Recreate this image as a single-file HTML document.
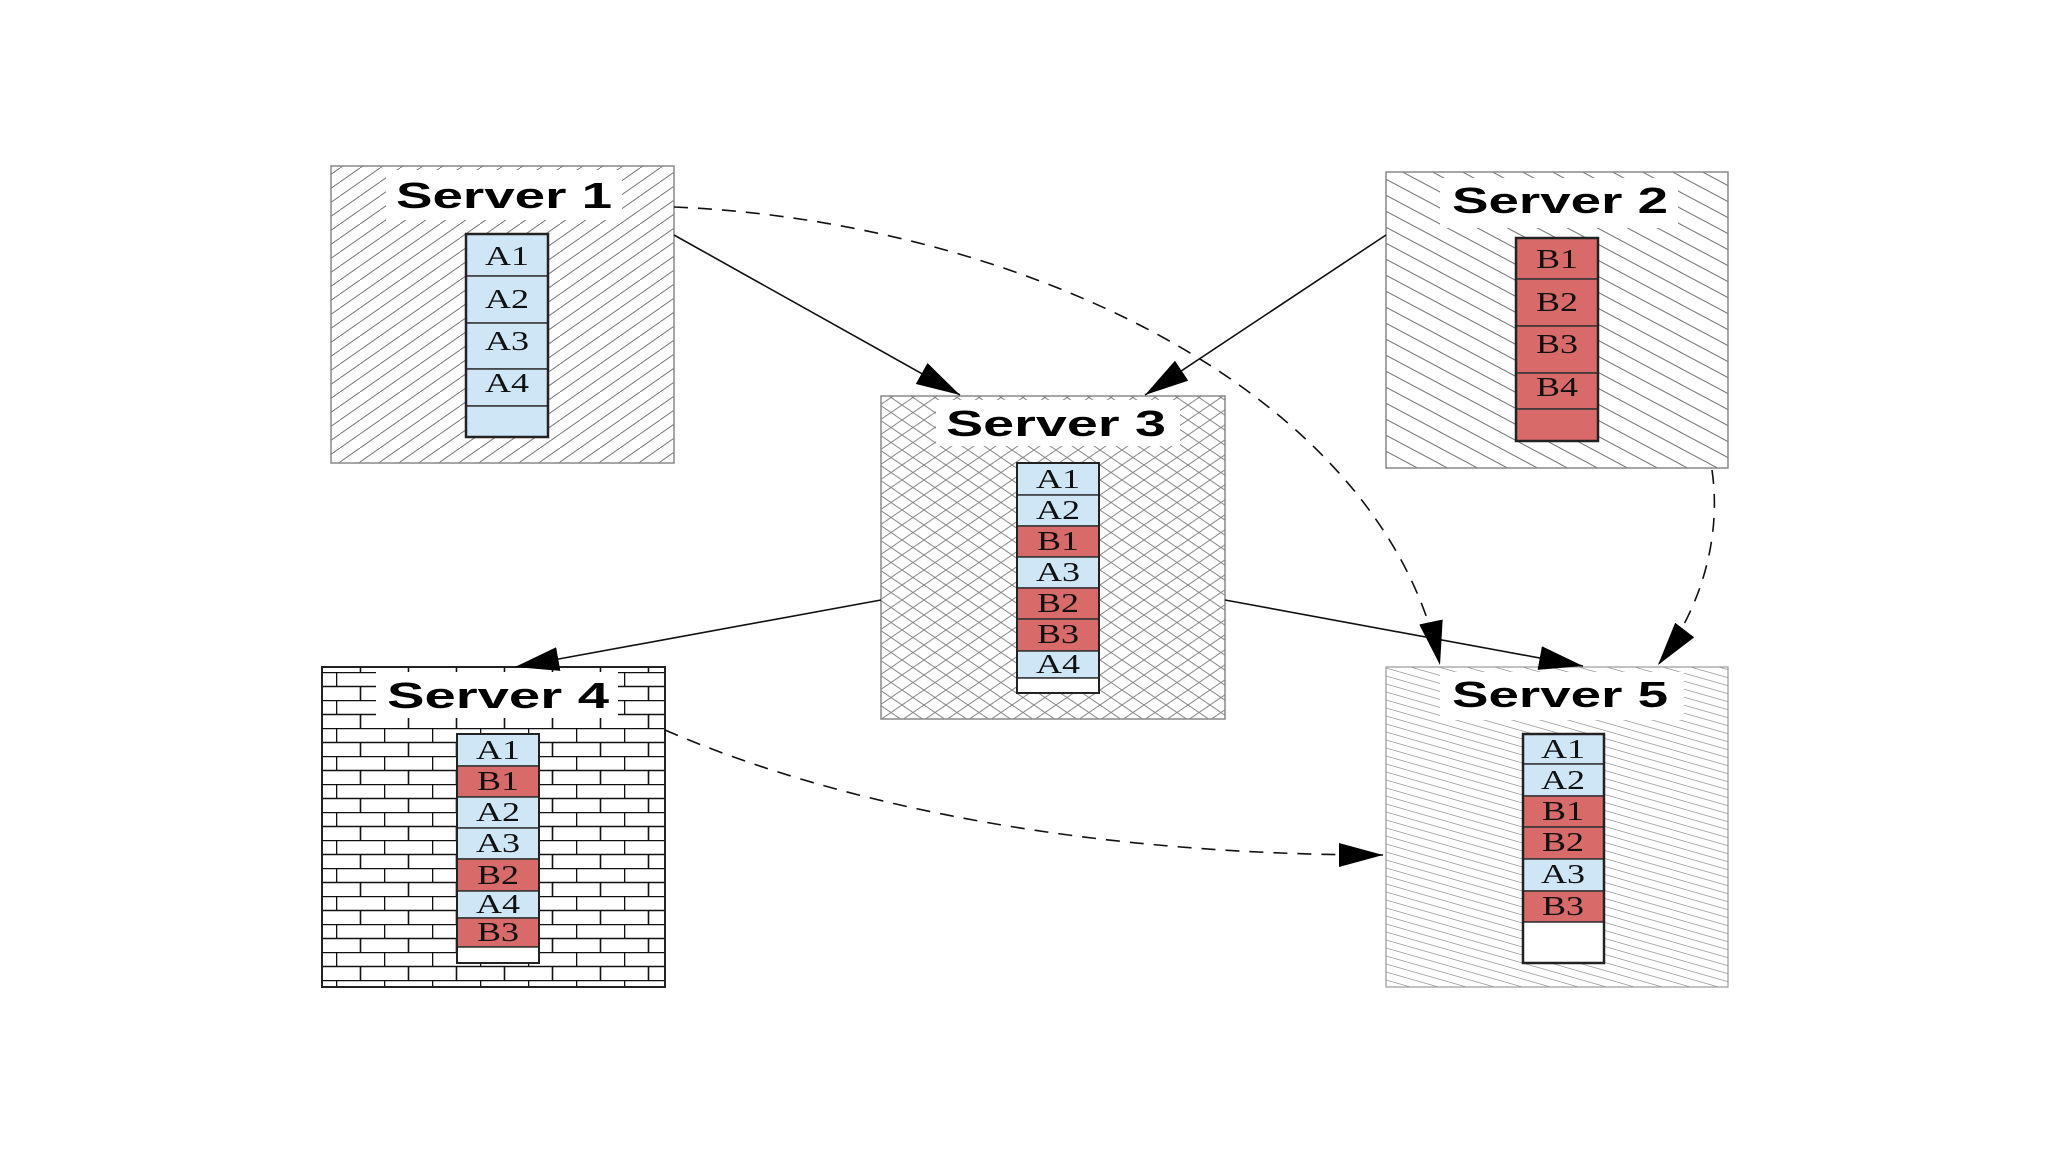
<!DOCTYPE html>
<html><head><meta charset="utf-8"><style>html,body{margin:0;padding:0;background:#fff}svg{display:block}</style></head>
<body>
<svg width="2048" height="1152" viewBox="0 0 2048 1152" xmlns="http://www.w3.org/2000/svg">
<defs>
<pattern id="p1" width="20" height="14" patternUnits="userSpaceOnUse"><path d="M-20,14 L0,0 M0,14 L20,0 M20,14 L40,0" stroke="#777" stroke-width="1"/></pattern>
<pattern id="p2" width="30" height="16" patternUnits="userSpaceOnUse"><path d="M0,0 L30,16 M-30,0 L30,32 M0,-16 L60,16" stroke="#777" stroke-width="1"/></pattern>
<pattern id="p3" width="22" height="15" patternUnits="userSpaceOnUse"><path d="M0,0 L22,15 M22,0 L0,15" stroke="#888" stroke-width="1" fill="none"/></pattern>
<pattern id="p4" width="48" height="28" patternUnits="userSpaceOnUse"><rect width="48" height="28" fill="#fff"/><path d="M0,0.5 H48 M0,14.5 H48 M0.5,0 V14 M24.5,14 V28" stroke="#111" stroke-width="1.6"/></pattern>
<pattern id="p5" width="28" height="8" patternUnits="userSpaceOnUse"><path d="M0,0 L28,8 M-28,0 L28,16 M0,-8 L56,8" stroke="#999" stroke-width="0.8"/></pattern>
<marker id="ah" viewBox="0 0 44 24" refX="44" refY="12" markerWidth="44" markerHeight="24" markerUnits="userSpaceOnUse" orient="auto"><path d="M0,0 L44,12 L0,24 Z" fill="#000"/></marker>
</defs>
<style>
.t{font-family:"Liberation Sans",sans-serif;font-weight:bold;font-size:36px;fill:#000}
.c{font-family:"Liberation Serif",serif;font-size:27px;fill:#111;text-anchor:middle}
.a{fill:#cfe6f7;stroke:#333;stroke-width:1.5}
.b{fill:#d86a6a;stroke:#333;stroke-width:1.5}
.w{fill:#fff;stroke:#333;stroke-width:1.5}
</style>

<!-- Server 1 -->
<rect x="331" y="166" width="343" height="297" fill="#fff"/>
<rect x="331" y="166" width="343" height="297" fill="url(#p1)" stroke="#888" stroke-width="1.5"/>
<rect x="386" y="170" width="236" height="50" fill="#fff"/>
<text class="t" x="396" y="208" textLength="216" lengthAdjust="spacingAndGlyphs">Server 1</text>
<rect class="a" x="466" y="234" width="82" height="42"/><text class="c" x="507" y="265" textLength="44" lengthAdjust="spacingAndGlyphs">A1</text>
<rect class="a" x="466" y="276" width="82" height="47"/><text class="c" x="507" y="308" textLength="44" lengthAdjust="spacingAndGlyphs">A2</text>
<rect class="a" x="466" y="323" width="82" height="46"/><text class="c" x="507" y="350" textLength="44" lengthAdjust="spacingAndGlyphs">A3</text>
<rect class="a" x="466" y="369" width="82" height="37"/><text class="c" x="507" y="392" textLength="44" lengthAdjust="spacingAndGlyphs">A4</text>
<rect class="a" x="466" y="406" width="82" height="31"/>
<rect x="466" y="234" width="82" height="203" fill="none" stroke="#222" stroke-width="2.5"/>

<!-- Server 2 -->
<rect x="1386" y="172" width="342" height="296" fill="#fff"/>
<rect x="1386" y="172" width="342" height="296" fill="url(#p2)" stroke="#888" stroke-width="1.5"/>
<rect x="1440" y="178" width="238" height="50" fill="#fff"/>
<text class="t" x="1452" y="213" textLength="216" lengthAdjust="spacingAndGlyphs">Server 2</text>
<rect class="b" x="1516" y="238" width="82" height="41"/><text class="c" x="1557" y="268" textLength="42" lengthAdjust="spacingAndGlyphs">B1</text>
<rect class="b" x="1516" y="279" width="82" height="47"/><text class="c" x="1557" y="311" textLength="42" lengthAdjust="spacingAndGlyphs">B2</text>
<rect class="b" x="1516" y="326" width="82" height="47"/><text class="c" x="1557" y="353" textLength="42" lengthAdjust="spacingAndGlyphs">B3</text>
<rect class="b" x="1516" y="373" width="82" height="36"/><text class="c" x="1557" y="396" textLength="42" lengthAdjust="spacingAndGlyphs">B4</text>
<rect class="b" x="1516" y="409" width="82" height="32"/>
<rect x="1516" y="238" width="82" height="203" fill="none" stroke="#222" stroke-width="2.5"/>

<!-- Server 3 -->
<rect x="881" y="396" width="344" height="323" fill="#fff"/>
<rect x="881" y="396" width="344" height="323" fill="url(#p3)" stroke="#888" stroke-width="1.5"/>
<rect x="936" y="400" width="244" height="46" fill="#fff"/>
<text class="t" x="946" y="436" textLength="220" lengthAdjust="spacingAndGlyphs">Server 3</text>
<rect class="a" x="1017" y="463" width="82" height="32"/><text class="c" x="1058" y="488" textLength="44" lengthAdjust="spacingAndGlyphs">A1</text>
<rect class="a" x="1017" y="495" width="82" height="31"/><text class="c" x="1058" y="519" textLength="44" lengthAdjust="spacingAndGlyphs">A2</text>
<rect class="b" x="1017" y="526" width="82" height="31"/><text class="c" x="1058" y="550" textLength="42" lengthAdjust="spacingAndGlyphs">B1</text>
<rect class="a" x="1017" y="557" width="82" height="31"/><text class="c" x="1058" y="581" textLength="44" lengthAdjust="spacingAndGlyphs">A3</text>
<rect class="b" x="1017" y="588" width="82" height="31"/><text class="c" x="1058" y="612" textLength="42" lengthAdjust="spacingAndGlyphs">B2</text>
<rect class="b" x="1017" y="619" width="82" height="32"/><text class="c" x="1058" y="643" textLength="42" lengthAdjust="spacingAndGlyphs">B3</text>
<rect class="a" x="1017" y="651" width="82" height="27"/><text class="c" x="1058" y="673" textLength="44" lengthAdjust="spacingAndGlyphs">A4</text>
<rect class="w" x="1017" y="678" width="82" height="15"/>
<rect x="1017" y="463" width="82" height="230" fill="none" stroke="#222" stroke-width="2"/>

<!-- Server 4 -->
<rect x="322" y="667" width="343" height="320" fill="url(#p4)" stroke="#222" stroke-width="2"/>
<rect x="376" y="672" width="242" height="46" fill="#fff"/>
<text class="t" x="387" y="708" textLength="222" lengthAdjust="spacingAndGlyphs">Server 4</text>
<rect class="a" x="457" y="734" width="82" height="32"/><text class="c" x="498" y="759" textLength="44" lengthAdjust="spacingAndGlyphs">A1</text>
<rect class="b" x="457" y="766" width="82" height="31"/><text class="c" x="498" y="790" textLength="42" lengthAdjust="spacingAndGlyphs">B1</text>
<rect class="a" x="457" y="797" width="82" height="31"/><text class="c" x="498" y="821" textLength="44" lengthAdjust="spacingAndGlyphs">A2</text>
<rect class="a" x="457" y="828" width="82" height="31"/><text class="c" x="498" y="852" textLength="44" lengthAdjust="spacingAndGlyphs">A3</text>
<rect class="b" x="457" y="859" width="82" height="32"/><text class="c" x="498" y="884" textLength="42" lengthAdjust="spacingAndGlyphs">B2</text>
<rect class="a" x="457" y="891" width="82" height="27"/><text class="c" x="498" y="913" textLength="44" lengthAdjust="spacingAndGlyphs">A4</text>
<rect class="b" x="457" y="918" width="82" height="29"/><text class="c" x="498" y="941" textLength="42" lengthAdjust="spacingAndGlyphs">B3</text>
<rect class="w" x="457" y="947" width="82" height="16"/>
<rect x="457" y="734" width="82" height="229" fill="none" stroke="#222" stroke-width="2"/>

<!-- Server 5 -->
<rect x="1386" y="667" width="342" height="320" fill="#fff"/>
<rect x="1386" y="667" width="342" height="320" fill="url(#p5)" stroke="#999" stroke-width="1.2"/>
<rect x="1440" y="672" width="244" height="48" fill="#fff"/>
<text class="t" x="1452" y="707" textLength="216" lengthAdjust="spacingAndGlyphs">Server 5</text>
<rect class="a" x="1523" y="734" width="81" height="30"/><text class="c" x="1563" y="758" textLength="44" lengthAdjust="spacingAndGlyphs">A1</text>
<rect class="a" x="1523" y="764" width="81" height="32"/><text class="c" x="1563" y="789" textLength="44" lengthAdjust="spacingAndGlyphs">A2</text>
<rect class="b" x="1523" y="796" width="81" height="31"/><text class="c" x="1563" y="820" textLength="42" lengthAdjust="spacingAndGlyphs">B1</text>
<rect class="b" x="1523" y="827" width="81" height="32"/><text class="c" x="1563" y="851" textLength="42" lengthAdjust="spacingAndGlyphs">B2</text>
<rect class="a" x="1523" y="859" width="81" height="32"/><text class="c" x="1563" y="883" textLength="44" lengthAdjust="spacingAndGlyphs">A3</text>
<rect class="b" x="1523" y="891" width="81" height="31"/><text class="c" x="1563" y="915" textLength="42" lengthAdjust="spacingAndGlyphs">B3</text>
<rect class="w" x="1523" y="922" width="81" height="41"/>
<rect x="1523" y="734" width="81" height="229" fill="none" stroke="#222" stroke-width="2.5"/>

<!-- connectors -->
<g fill="none" stroke="#111" stroke-width="1.6">
<line x1="674" y1="235" x2="960" y2="395" marker-end="url(#ah)"/>
<line x1="1386" y1="235" x2="1145" y2="395" marker-end="url(#ah)"/>
<line x1="881" y1="600" x2="515" y2="667" marker-end="url(#ah)"/>
<line x1="1225" y1="600" x2="1583" y2="666" marker-end="url(#ah)"/>
<path d="M674,207 C1000,220 1380,380 1440,665" stroke-dasharray="14,10" marker-end="url(#ah)"/>
<path d="M1712,470 C1722,540 1700,610 1658,665" stroke-dasharray="14,10" marker-end="url(#ah)"/>
<path d="M665,730 C850,810 1100,855 1383,855" stroke-dasharray="14,10" marker-end="url(#ah)"/>
</g>
</svg>
</body></html>
